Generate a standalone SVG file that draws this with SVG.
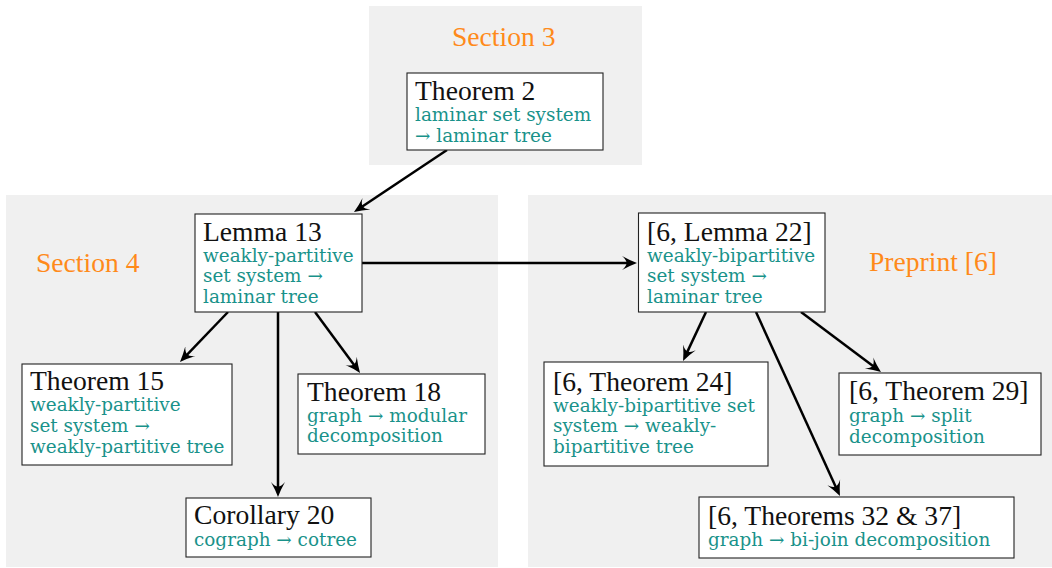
<svg xmlns="http://www.w3.org/2000/svg" width="1052" height="568" viewBox="0 0 1052 568">
  <defs>
    <style>
      .panel { fill: #f0f0f0; stroke: none; }
      .box { fill: #ffffff; stroke: #222222; stroke-width: 1.1; }
      .title { font-family: "Liberation Serif", "Times New Roman", serif; font-size: 27.6px; fill: #111111; }
      .sub { font-family: "DejaVu Serif", "Liberation Serif", serif; font-size: 18.4px; fill: #19928a; }
      .sec { font-family: "Liberation Serif", "Times New Roman", serif; font-size: 27.6px; fill: #ff8a1a; }
      .edge { fill: none; stroke: #000000; stroke-width: 2.5; marker-end: url(#arrow); }
    </style>
    <marker id="arrow" viewBox="0 -9 18 18" refX="5" refY="0" markerWidth="18" markerHeight="18" markerUnits="userSpaceOnUse" orient="auto">
      <path d="M15,0 Q7.5,-2.8 0,-7 Q4.5,-3.2 4.5,0 Q4.5,3.2 0,7 Q7.5,2.8 15,0 Z" fill="#000000"/>
    </marker>
  </defs>

  <g id="panels">
    <rect class="panel" x="369" y="6" width="273" height="159"/>
    <rect class="panel" x="6" y="195" width="492" height="372"/>
    <rect class="panel" x="528" y="195" width="524" height="372"/>
    <text class="sec" x="452" y="46">Section 3</text>
    <text class="sec" x="36" y="272">Section 4</text>
    <text class="sec" x="869" y="271">Preprint [6]</text>
  </g>

  <g id="connectors">
    <line class="edge" x1="447" y1="150" x2="362.3" y2="206.5"/>
    <line class="edge" x1="362" y1="263" x2="627" y2="263"/>
    <line class="edge" x1="228" y1="312" x2="186.9" y2="354.8"/>
    <line class="edge" x1="278" y1="312" x2="278" y2="487"/>
    <line class="edge" x1="315" y1="312" x2="354.1" y2="364.9"/>
    <line class="edge" x1="706" y1="312" x2="687.3" y2="351.9"/>
    <line class="edge" x1="756" y1="312" x2="835.8" y2="486.9"/>
    <line class="edge" x1="801" y1="312" x2="873" y2="366"/>
  </g>

  <g id="theorem2">
    <rect class="box" x="407" y="73" width="196" height="77"/>
    <text class="title" x="415" y="100">Theorem 2</text>
    <text class="sub" x="415" y="121">laminar set system</text>
    <text class="sub" x="415" y="142">→ laminar tree</text>
  </g>

  <g id="lemma13">
    <rect class="box" x="195" y="214" width="167" height="98"/>
    <text class="title" x="203" y="241">Lemma 13</text>
    <text class="sub" x="203" y="262">weakly-partitive</text>
    <text class="sub" x="203" y="282">set system →</text>
    <text class="sub" x="203" y="303">laminar tree</text>
  </g>

  <g id="lemma22">
    <rect class="box" x="638.5" y="213" width="186.5" height="99"/>
    <text class="title" x="647" y="241">[6, Lemma 22]</text>
    <text class="sub" x="647" y="262">weakly-bipartitive</text>
    <text class="sub" x="647" y="282">set system →</text>
    <text class="sub" x="647" y="303">laminar tree</text>
  </g>

  <g id="theorem15">
    <rect class="box" x="22" y="364" width="210" height="101"/>
    <text class="title" x="30" y="390">Theorem 15</text>
    <text class="sub" x="30" y="411">weakly-partitive</text>
    <text class="sub" x="30" y="432">set system →</text>
    <text class="sub" x="30" y="453">weakly-partitive tree</text>
  </g>

  <g id="theorem18">
    <rect class="box" x="298" y="374" width="187" height="80"/>
    <text class="title" x="307" y="401">Theorem 18</text>
    <text class="sub" x="307" y="422">graph → modular</text>
    <text class="sub" x="307" y="442">decomposition</text>
  </g>

  <g id="corollary20">
    <rect class="box" x="186" y="498" width="185" height="59"/>
    <text class="title" x="194" y="524">Corollary 20</text>
    <text class="sub" x="194" y="546">cograph → cotree</text>
  </g>

  <g id="theorem24">
    <rect class="box" x="544" y="362" width="224" height="104"/>
    <text class="title" x="553" y="391">[6, Theorem 24]</text>
    <text class="sub" x="553" y="412">weakly-bipartitive set</text>
    <text class="sub" x="553" y="432">system → weakly-</text>
    <text class="sub" x="553" y="453">bipartitive tree</text>
  </g>

  <g id="theorem29">
    <rect class="box" x="839" y="373" width="202" height="82"/>
    <text class="title" x="849" y="400">[6, Theorem 29]</text>
    <text class="sub" x="849" y="422">graph → split</text>
    <text class="sub" x="849" y="443">decomposition</text>
  </g>

  <g id="theorem32_37">
    <rect class="box" x="699" y="497" width="315" height="61"/>
    <text class="title" x="708" y="525">[6, Theorems 32 &amp; 37]</text>
    <text class="sub" x="708" y="546">graph → bi-join decomposition</text>
  </g>
</svg>
